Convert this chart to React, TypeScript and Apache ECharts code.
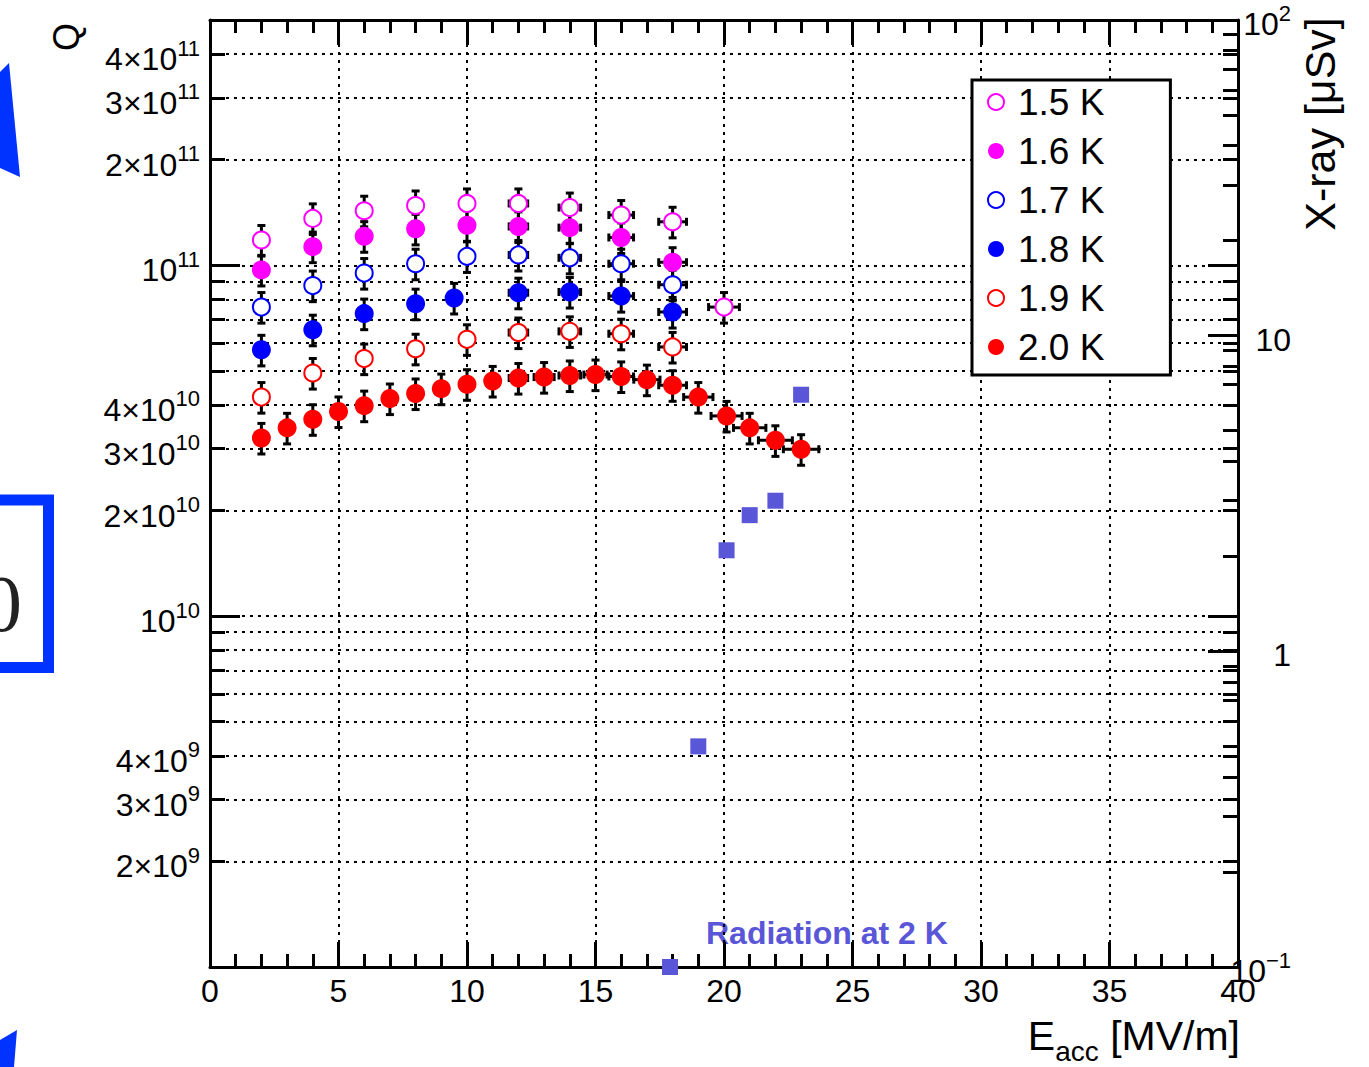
import { useEffect, useRef } from 'react';
import * as echarts from 'echarts';

const FONT = '"Liberation Sans", Arial, Helvetica, sans-serif';

// Bath temperatures (legend entries) and their marker styles
const temperatures = ['1.5 K', '1.6 K', '1.7 K', '1.8 K', '1.9 K', '2.0 K'];
const tempColors = ['#ff00ff', '#ff00ff', '#0000ff', '#0000ff', '#ff0000', '#ff0000'];
const tempFilled = [false, true, false, true, false, true];

// Accelerating gradient E_acc [MV/m] and quality factor Q at each temperature
const eacc15 = [2, 4, 6, 8, 10, 12, 14, 16, 18, 20];
const q15 = [1.18e11, 1.36e11, 1.43e11, 1.48e11, 1.5e11, 1.5e11, 1.46e11, 1.39e11, 1.33e11, 7.6e10];

const eacc16 = [2, 4, 6, 8, 10, 12, 14, 16, 18];
const q16 = [9.7e10, 1.13e11, 1.21e11, 1.27e11, 1.3e11, 1.29e11, 1.28e11, 1.2e11, 1.02e11];

const eacc17 = [2, 4, 6, 8, 10, 12, 14, 16, 18];
const q17 = [7.6e10, 8.75e10, 9.5e10, 1.01e11, 1.06e11, 1.07e11, 1.05e11, 1.01e11, 8.8e10];

const eacc18 = [2, 4, 6, 8, 9.5, 12, 14, 16, 18];
const q18 = [5.74e10, 6.55e10, 7.28e10, 7.77e10, 8.07e10, 8.35e10, 8.39e10, 8.17e10, 7.36e10];

const eacc19 = [2, 4, 6, 8, 10, 12, 14, 16, 18];
const q19 = [4.21e10, 4.93e10, 5.42e10, 5.78e10, 6.15e10, 6.43e10, 6.48e10, 6.38e10, 5.85e10];

const eacc20 = [2, 3, 4, 5, 6, 7, 8, 9, 10, 11, 12, 13, 14, 15, 16, 17, 18, 19, 20.1, 21, 22, 23];
const q20 = [
  3.22e10, 3.44e10, 3.64e10, 3.83e10, 3.98e10, 4.17e10, 4.31e10, 4.45e10, 4.58e10, 4.68e10, 4.77e10,
  4.8e10, 4.85e10, 4.88e10, 4.82e10, 4.72e10, 4.55e10, 4.21e10, 3.72e10, 3.44e10, 3.17e10, 2.99e10,
];

const eaccSets = [eacc15, eacc16, eacc17, eacc18, eacc19, eacc20];
const qSets = [q15, q16, q17, q18, q19, q20];

// X-ray dose measured at 2 K [uSv]
const eaccXray = [17.9, 19, 20.1, 21, 22, 23];
const xrayDose = [0.1, 0.5, 2.09, 2.7, 3.0, 6.5];

// Relative measurement uncertainties
const Q_REL_ERR = 0.1;
const E_REL_ERR = 0.03;

// Axis ranges
const E_MIN = 0;
const E_MAX = 40;
const E_STEP = 5;
const Q_MIN = 1e9;
const Q_MAX = 5e11;
const XRAY_MIN = 0.1;
const XRAY_MAX = 100;

const lg = Math.log10;
const Y_LO = lg(Q_MIN);
const Y_HI = lg(Q_MAX);
const R_LO = lg(XRAY_MIN);
const R_HI = lg(XRAY_MAX);

// Log-axis tick positions (in log10 units)
function logTicks(lo: number, hi: number, mantissas: number[]) {
  const out: number[] = [];
  for (let e = Math.floor(lo); e <= Math.ceil(hi); e++) {
    for (const m of mantissas) {
      const v = lg(m) + e;
      if (v >= lo - 1e-9 && v <= hi + 1e-9) out.push(v);
    }
  }
  return out;
}
const MINOR = [2, 3, 4, 5, 6, 7, 8, 9];
const qMinorTicks = logTicks(Y_LO, Y_HI - 1e-6, MINOR);
const qMajorTicks = logTicks(Y_LO, Y_HI, [1]);
const qLabelTicks = logTicks(Y_LO + 1e-6, Y_HI, [1, 2, 3, 4]);
const rMinorTicks = logTicks(R_LO, R_HI, MINOR);
const rMajorTicks = logTicks(R_LO, R_HI, [1]);

const supRich = {
  b: { fontSize: 32, lineHeight: 44, fontFamily: FONT, color: '#000' },
  s: { fontSize: 22, lineHeight: 22, verticalAlign: 'top', fontFamily: FONT, color: '#000' },
};

function qLabel(v: number) {
  const e = Math.floor(v + 1e-6);
  const m = Math.round(Math.pow(10, v - e));
  return m === 1 ? `{b|10}{s|${e}}` : `{b|${m}×10}{s|${e}}`;
}
function doseLabel(v: number) {
  const e = Math.round(v);
  if (e === 0) return '{b|1}';
  if (e === 1) return '{b|10}';
  return `{b|10}{s|${e < 0 ? '−' + -e : e}}`;
}

const BLACK = '#000';
const DOT = { color: BLACK, width: 2, type: [3, 5] as number[] };

function yAxisBase(position: 'left' | 'right', min: number, max: number) {
  return {
    type: 'value',
    position,
    min,
    max,
    axisLine: { show: false, onZero: false },
    axisTick: { show: false },
    axisLabel: { show: false },
    splitLine: { show: false },
  };
}

const ERR_COLOR = '#000';
const MARKER = 19;

function errorRender(params: any, api: any) {
  const x = api.value(0);
  const y = api.value(1);
  const c = api.coord([x, y]);
  const lo = api.coord([x, api.value(2)]);
  const hi = api.coord([x, api.value(3)]);
  const l = api.coord([api.value(4), y]);
  const r = api.coord([api.value(5), y]);
  const cap = 4;
  const style = { stroke: ERR_COLOR, lineWidth: 3 };
  const line = (x1: number, y1: number, x2: number, y2: number) => ({
    type: 'line',
    shape: { x1, y1, x2, y2 },
    style,
  });
  const children: any[] = [
    line(c[0], lo[1], c[0], hi[1]),
    line(c[0] - cap, lo[1], c[0] + cap, lo[1]),
    line(c[0] - cap, hi[1], c[0] + cap, hi[1]),
  ];
  if ((r[0] - l[0]) / 2 > 9) {
    children.push(line(l[0], c[1], r[0], c[1]));
    children.push(line(l[0], c[1] - cap, l[0], c[1] + cap));
    children.push(line(r[0], c[1] - cap, r[0], c[1] + cap));
  }
  return { type: 'group', children };
}

function buildOption() {
  const series: any[] = [];
  temperatures.forEach((name, i) => {
    const xs = eaccSets[i];
    const qs = qSets[i];
    series.push({
      type: 'custom',
      name: name + ' err',
      xAxisIndex: 0,
      yAxisIndex: 0,
      renderItem: errorRender,
      encode: { x: 0, y: 1 },
      data: xs.map((x, k) => [
        x,
        lg(qs[k]),
        lg(qs[k] * (1 - Q_REL_ERR)),
        lg(qs[k] * (1 + Q_REL_ERR)),
        x * (1 - E_REL_ERR),
        x * (1 + E_REL_ERR),
      ]),
      z: 2,
      silent: true,
    });
  });
  temperatures.forEach((name, i) => {
    const xs = eaccSets[i];
    const qs = qSets[i];
    const col = tempColors[i];
    series.push({
      type: 'scatter',
      name,
      xAxisIndex: 0,
      yAxisIndex: 0,
      symbol: 'circle',
      symbolSize: tempFilled[i] ? MARKER : MARKER - 2,
      itemStyle: tempFilled[i]
        ? { color: col, borderWidth: 0, opacity: 1 }
        : { color: '#ffffff', borderColor: col, borderWidth: 2, opacity: 1 },
      data: xs.map((x, k) => [x, lg(qs[k])]),
      z: 3,
    });
  });
  series.push({
    type: 'scatter',
    name: 'Radiation at 2 K',
    xAxisIndex: 0,
    yAxisIndex: 4,
    symbol: 'rect',
    symbolSize: 16,
    clip: false,
    itemStyle: { color: '#5a56d8', opacity: 1 },
    data: eaccXray.map((x, k) => [x, lg(xrayDose[k])]),
    z: 4,
  });

  const xTickCommon = {
    type: 'value',
    min: E_MIN,
    max: E_MAX,
    interval: E_STEP,
    axisLine: { show: true, onZero: false, lineStyle: { color: BLACK, width: 3 } },
    axisTick: { show: true, inside: true, length: 25, lineStyle: { color: BLACK, width: 3 } },
    minorTick: { show: true, splitNumber: 5, length: 13, lineStyle: { color: BLACK, width: 3 } },
  };

  return {
    animation: false,
    backgroundColor: '#ffffff',
    grid: { left: 210, top: 20, width: 1028, height: 947, outerBoundsMode: 'none' },
    xAxis: [
      {
        ...xTickCommon,
        position: 'bottom',
        axisLabel: { show: true, fontSize: 32, color: BLACK, fontFamily: FONT, margin: 8 },
        splitLine: { show: true, lineStyle: DOT },
      },
      {
        ...xTickCommon,
        position: 'top',
        axisLabel: { show: false },
        splitLine: { show: false },
      },
    ],
    yAxis: [
      {
        ...yAxisBase('left', Y_LO, Y_HI),
        axisLine: { show: true, onZero: false, lineStyle: { color: BLACK, width: 3 } },
        axisTick: { show: true, inside: true, length: 15, customValues: qMinorTicks, lineStyle: { color: BLACK, width: 3 } },
        axisLabel: {
          show: true,
          customValues: qLabelTicks,
          formatter: qLabel,
          margin: 10,
          padding: [10, 0, 0, 0],
          rich: supRich,
        },
        splitLine: { show: true, lineStyle: DOT },
      },
      {
        ...yAxisBase('left', Y_LO, Y_HI),
        axisTick: { show: true, inside: true, length: 30, customValues: qMajorTicks, lineStyle: { color: BLACK, width: 3 } },
        splitLine: { show: true, lineStyle: DOT },
      },
      {
        ...yAxisBase('right', Y_LO, Y_HI),
        axisTick: { show: true, inside: true, length: 15, customValues: qMinorTicks, lineStyle: { color: BLACK, width: 3 } },
      },
      {
        ...yAxisBase('right', Y_LO, Y_HI),
        axisTick: { show: true, inside: true, length: 30, customValues: qMajorTicks, lineStyle: { color: BLACK, width: 3 } },
      },
      {
        ...yAxisBase('right', R_LO, R_HI),
        axisLine: { show: true, onZero: false, lineStyle: { color: BLACK, width: 3 } },
        axisTick: { show: true, inside: true, length: 30, customValues: rMajorTicks, lineStyle: { color: BLACK, width: 3 } },
        axisLabel: {
          show: true,
          customValues: rMajorTicks,
          formatter: doseLabel,
          margin: 53,
          align: 'right',
          padding: [8, 0, 0, 0],
          rich: supRich,
        },
      },
      {
        ...yAxisBase('right', R_LO, R_HI),
        axisTick: { show: true, inside: true, length: 15, customValues: rMinorTicks, lineStyle: { color: BLACK, width: 3 } },
      },
    ],
    legend: {
      data: temperatures.map((name, i) => ({
        name,
        icon: 'circle',
        itemStyle: tempFilled[i]
          ? { color: tempColors[i], borderWidth: 0 }
          : { color: '#ffffff', borderColor: tempColors[i], borderWidth: 2 },
      })),
      orient: 'vertical',
      left: 972,
      top: 80,
      padding: [2, 66, 8, 15],
      itemGap: 9,
      itemWidth: 34,
      itemHeight: 16,
      backgroundColor: '#ffffff',
      borderColor: BLACK,
      borderWidth: 3,
      borderRadius: 0,
      selectedMode: false,
      textStyle: { fontSize: 37, lineHeight: 40, color: BLACK, fontFamily: FONT },
    },
    graphic: [
      // Edge of neighbouring figure material
      {
        type: 'polygon',
        shape: { points: [[0, 72], [9, 63], [20, 177], [0, 168]] },
        style: { fill: '#0033ff' },
      },
      {
        type: 'rect',
        shape: { x: -30, y: 500, width: 78.5, height: 167.5 },
        style: { fill: 'none', stroke: '#0033ff', lineWidth: 11 },
      },
      {
        type: 'text',
        x: 22,
        y: 604,
        style: {
          text: '0',
          fontSize: 80,
          fontFamily: '"Liberation Serif", "DejaVu Serif", serif',
          fill: '#222222',
          align: 'right',
          verticalAlign: 'middle',
        },
      },
      {
        type: 'polygon',
        shape: { points: [[0, 1040], [17, 1030], [14, 1067], [0, 1067]] },
        style: { fill: '#0033ff' },
      },
      // Axis titles
      {
        type: 'text',
        x: 66,
        y: 37,
        rotation: Math.PI / 2,
        style: { text: 'Q', fontSize: 36, fontFamily: FONT, fill: BLACK, align: 'center', verticalAlign: 'middle' },
      },
      {
        type: 'text',
        x: 1320,
        y: 124,
        rotation: Math.PI / 2,
        style: {
          text: 'X-ray [μSv]',
          fontSize: 43,
          fontFamily: FONT,
          fill: BLACK,
          align: 'center',
          verticalAlign: 'middle',
        },
      },
      {
        type: 'text',
        x: 1240,
        y: 1036,
        style: {
          text: '{b|E}{sub|acc}{b| [MV/m]}',
          align: 'right',
          verticalAlign: 'middle',
          rich: {
            b: { fontSize: 41, lineHeight: 58, fontFamily: FONT, color: BLACK },
            sub: { fontSize: 28, lineHeight: 26, verticalAlign: 'bottom', fontFamily: FONT, color: BLACK },
          },
        },
      },
      {
        type: 'text',
        x: 706,
        y: 933,
        style: {
          text: 'Radiation at 2 K',
          fontSize: 32,
          fontWeight: 'bold',
          fontFamily: FONT,
          fill: '#5a56d8',
          align: 'left',
          verticalAlign: 'middle',
        },
      },
    ],
    series,
  };
}

export default function App() {
  const ref = useRef<HTMLDivElement>(null);
  useEffect(() => {
    if (!ref.current) return;
    const chart = echarts.init(ref.current, undefined, { renderer: 'svg' });
    chart.setOption(buildOption() as any);
    return () => chart.dispose();
  }, []);
  return (
    <div
      ref={ref}
      style={{ position: 'fixed', left: 0, top: 0, width: '1369px', height: '1067px', background: '#fff' }}
    />
  );
}
